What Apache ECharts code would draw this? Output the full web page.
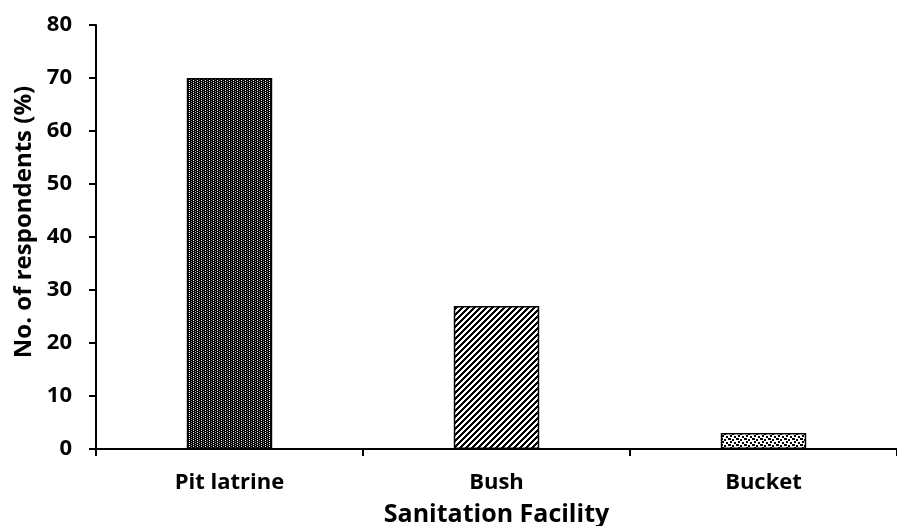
<!DOCTYPE html>
<html><head><meta charset="utf-8">
<script src="https://cdn.jsdelivr.net/npm/echarts@6/dist/echarts.min.js"></script>
<style>html,body{margin:0;padding:0;background:#fff}#c{width:897px;height:526px}</style>
</head><body><div id="c"></div>
<script>
const categories = ['Pit latrine', 'Bush', 'Bucket'];
const values = [70, 27, 3];
const yTicks = [0, 10, 20, 30, 40, 50, 60, 70, 80];

function pat(kind) {
  const c = document.createElement('canvas');
  const ctx = c.getContext('2d');
  if (kind === 'vert') {
    c.width = 4; c.height = 4;
    ctx.fillStyle = '#000'; ctx.fillRect(0, 0, 4, 4);
    ctx.fillStyle = '#fff';
    ctx.fillRect(1, 0, 1, 1); ctx.fillRect(1, 2, 1, 1);
    ctx.fillStyle = '#999';
    ctx.fillRect(3, 1, 1, 1); ctx.fillRect(3, 3, 1, 1);
  } else if (kind === 'diag') {
    c.width = 6; c.height = 6;
    ctx.fillStyle = '#fff'; ctx.fillRect(0, 0, 6, 6);
    ctx.fillStyle = '#000';
    for (let y = 0; y < 6; y++) {
      for (let k = 0; k < 3; k++) {
        const x = (6 - y + k + 6) % 6;
        ctx.fillRect(x, y, 1, 1);
      }
    }
  } else {
    c.width = 8; c.height = 6;
    ctx.fillStyle = '#fff'; ctx.fillRect(0, 0, 8, 6);
    ctx.fillStyle = '#000';
    ctx.fillRect(0, 0, 3, 2); ctx.fillRect(4, 1, 2, 2);
    ctx.fillRect(2, 3, 2, 2); ctx.fillRect(6, 4, 2, 2);
  }
  return c;
}
const patterns = [pat('vert'), pat('diag'), pat('dots')];

const chart = echarts.init(document.getElementById('c'));
const font = '"Open Sans", "DejaVu Sans", sans-serif';
chart.setOption({
  animation: false,
  grid: { left: 96, right: 0, top: 25, bottom: 77, containLabel: false, outerBoundsMode: 'none' },
  xAxis: {
    type: 'category', data: categories,
    name: 'Sanitation Facility', nameLocation: 'middle', nameGap: 53,
    nameTextStyle: { fontFamily: font, fontWeight: 'bold', fontSize: 25, color: '#000' },
    axisLine: { lineStyle: { color: '#000', width: 2 } },
    axisTick: { show: true, length: 7, lineStyle: { color: '#000', width: 2 } },
    axisLabel: { fontFamily: font, fontWeight: 'bold', fontSize: 22, color: '#000', margin: 23 }
  },
  yAxis: {
    type: 'value', min: 0, max: 80, interval: 10,
    name: 'No. of respondents (%)', nameLocation: 'middle', nameGap: 60, nameRotate: 90,
    nameTextStyle: { fontFamily: font, fontWeight: 'bold', fontSize: 24, color: '#000', padding: [0, 0, 0, 30] },
    splitLine: { show: false },
    axisLine: { show: true, lineStyle: { color: '#000', width: 2 } },
    axisTick: { show: true, length: 7, lineStyle: { color: '#000', width: 2 } },
    axisLabel: { fontFamily: font, fontWeight: 'bold', fontSize: 22, color: '#000', margin: 24,
      formatter: v => yTicks.includes(v) ? String(v) : '' }
  },
  series: [{
    type: 'bar', barWidth: '32%',
    data: values.map((v, i) => ({
      value: v,
      itemStyle: { color: { image: patterns[i], repeat: 'repeat' }, borderColor: '#000', borderWidth: 1.5 }
    }))
  }]
});
</script></body></html>
